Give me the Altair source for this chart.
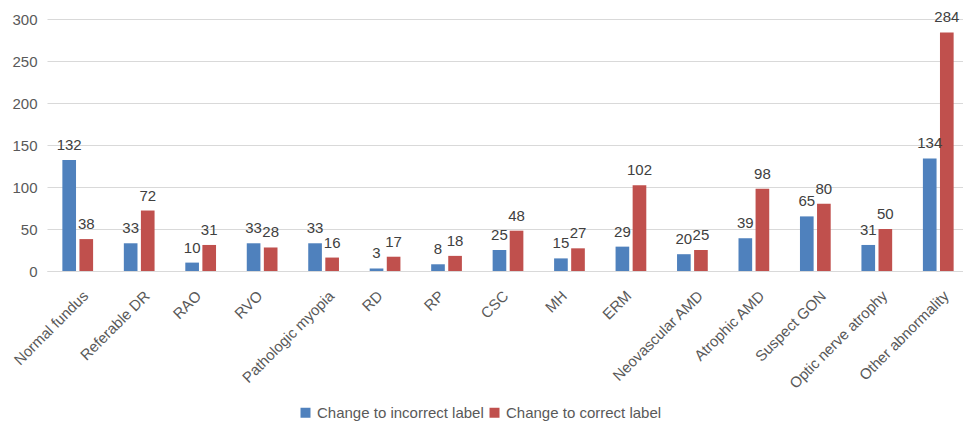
import altair as alt
import pandas as pd

categories = ["Normal fundus", "Referable DR", "RAO", "RVO", "Pathologic myopia", "RD", "RP",
              "CSC", "MH", "ERM", "Neovascular AMD", "Atrophic AMD", "Suspect GON",
              "Optic nerve atrophy", "Other abnormality"]
incorrect = [132, 33, 10, 33, 33, 3, 8, 25, 15, 29, 20, 39, 65, 31, 134]
correct = [38, 72, 31, 28, 16, 17, 18, 48, 27, 102, 25, 98, 80, 50, 284]
series = ["Change to incorrect label", "Change to correct label"]
colors = ["#4F81BD", "#C0504D"]

rows = []
for c, a, b in zip(categories, incorrect, correct):
    rows.append({"category": c, "series": series[0], "value": a})
    rows.append({"category": c, "series": series[1], "value": b})
df = pd.DataFrame(rows)

FONT = "Liberation Sans"
FS = 15

x = alt.X("category:N", sort=categories, title=None,
          scale=alt.Scale(paddingInner=0.5, paddingOuter=0.25),
          axis=alt.Axis(labelAngle=-45, labelAlign="right", labelBaseline="top",
                        labelFontSize=FS, labelColor="#595959", labelFont=FONT,
                        ticks=False, domainColor="#d9d9d9", labelPadding=17,
                        labelOffset={"expr": "min(3, -16 + 3*length(datum.label))"},
                        labelLimit=300))
xo = alt.XOffset("series:N", sort=series, scale=alt.Scale(paddingInner=0.2))
y = alt.Y("value:Q", title=None,
          scale=alt.Scale(domain=[0, 300], nice=False),
          axis=alt.Axis(values=[0, 50, 100, 150, 200, 250, 300], ticks=False, domain=False,
                        gridColor="#d9d9d9", labelFontSize=FS, labelColor="#595959",
                        labelFont=FONT, labelPadding=10))

base = alt.Chart(df)
bars = base.mark_bar().encode(
    x=x, xOffset=xo, y=y,
    color=alt.Color("series:N", sort=series,
                    scale=alt.Scale(domain=series, range=colors),
                    legend=alt.Legend(title=None, orient="none", direction="horizontal",
                                      legendX=251, legendY=386, symbolType="square",
                                      symbolSize=100, symbolStrokeWidth=0,
                                      labelFontSize=FS, labelColor="#595959", labelFont=FONT,
                                      columnPadding=3, labelOffset=4, columns=2,
                                      labelLimit=400))
)
labels = base.mark_text(dy=-15, fontSize=FS, color="#404040", font=FONT).encode(
    x=x, xOffset=xo, y=y, text="value:Q"
)

chart = alt.layer(bars, labels).properties(
    width=922, height=252,
    autosize=alt.AutoSizeParams(type="none"),
    padding={"left": 47, "top": 19, "right": -6, "bottom": 156},
).configure_view(stroke=None)

chart.save("out.html", embed_options={"renderer": "svg", "actions": False})
